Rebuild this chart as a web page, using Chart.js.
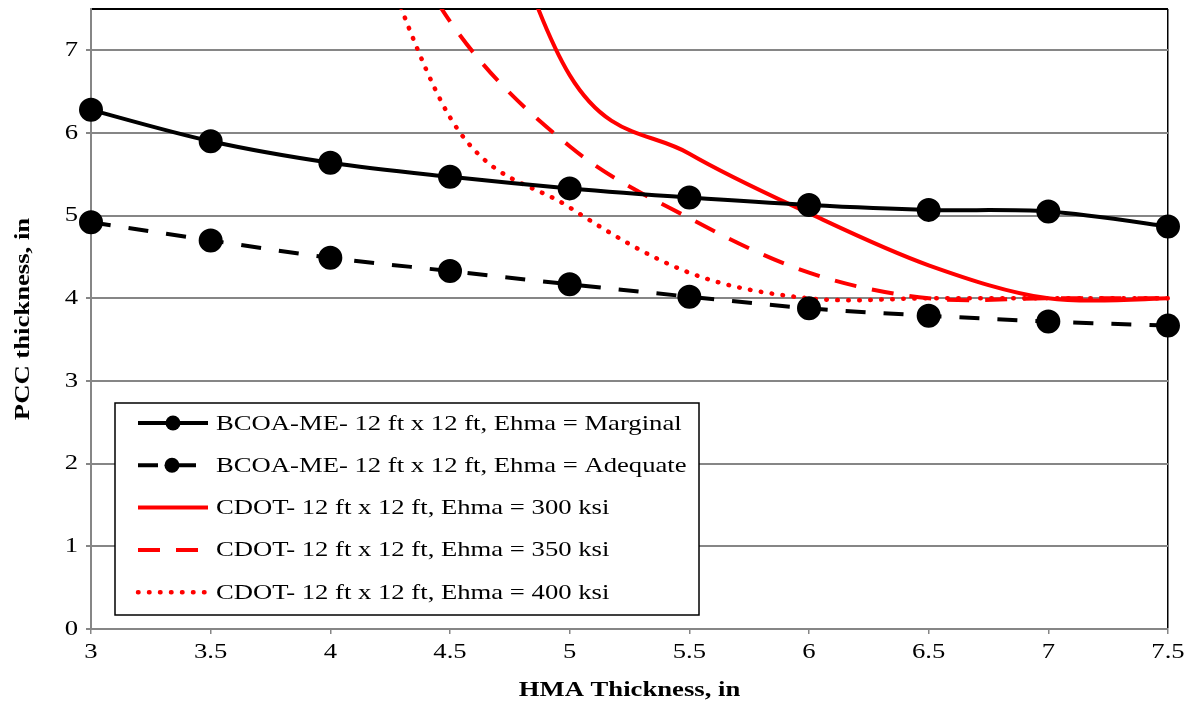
<!DOCTYPE html>
<html>
<head>
<meta charset="utf-8">
<script src="https://cdn.jsdelivr.net/npm/chart.js@4/dist/chart.umd.min.js"></script>
<style>
  html, body { margin: 0; padding: 0; background: #fff; }
  #wrap { width: 1189px; height: 708px; }
</style>
</head>
<body>
<div id="wrap"><canvas id="chart" width="1189" height="708"></canvas></div>
<script>
// 데이터
const hma = [3, 3.5, 4, 4.5, 5, 5.5, 6, 6.5, 7, 7.5];
const marginal = [6.28, 5.9, 5.64, 5.47, 5.33, 5.22, 5.13, 5.07, 5.05, 4.87];
const adequate = [4.92, 4.7, 4.49, 4.33, 4.17, 4.02, 3.88, 3.79, 3.72, 3.67];

const cdotX = [4, 4.5, 5, 5.5, 6, 6.5, 7, 7.5];
const cdot300 = [14, 10.5, 6.7, 5.75, 5.03, 4.4, 4.0, 4.0];
const cdot350 = [10, 7.35, 5.84, 4.97, 4.31, 4.0, 4.0, 4.0];
const cdot400 = [9.9, 6.19, 5.1, 4.31, 4.0, 4.0, 4.0, 4.0];

const labels = [
    'BCOA-ME- 12 ft x 12 ft, Ehma = Marginal',
    'BCOA-ME- 12 ft x 12 ft, Ehma = Adequate',
    'CDOT- 12 ft x 12 ft, Ehma = 300 ksi',
    'CDOT- 12 ft x 12 ft, Ehma = 350 ksi',
    'CDOT- 12 ft x 12 ft, Ehma = 400 ksi'
];

const xTicks = [3, 3.5, 4, 4.5, 5, 5.5, 6, 6.5, 7, 7.5];

const toXY = (xs, ys) => xs.map((x, i) => ({ x: x, y: ys[i] }));

const GRAY = '#868686';
const FONT = 'Liberation Serif';
const STRETCH = 1.27; // 원본 글꼴이 가로로 넓게 렌더링됨
const PLOT_TOP = 9;

// 글자를 가로로 늘려 그리기
const wideText = {
    id: 'wideText',
    beforeDraw(chart) {
        const c = chart.ctx;
        if (c._wide) return;
        const orig = c.fillText.bind(c);
        c.fillText = function (text, x, y) {
            this.save();
            this.translate(x, y);
            this.scale(STRETCH, 1);
            orig(text, 0, 0);
            this.restore();
        };
        c._wide = true;
    }
};

// 플롯 영역 위쪽 위치 맞추기
const fixTop = {
    id: 'fixTop',
    afterLayout(chart) {
        const a = chart.chartArea;
        const y = chart.scales.y;
        a.top = PLOT_TOP;
        a.height = a.bottom - PLOT_TOP;
        y.top = PLOT_TOP;
        y.height = y.bottom - PLOT_TOP;
        y.configure();
    }
};

// 엑셀식 부드러운 선 (Catmull-Rom 제어점)
const excelSmooth = {
    id: 'excelSmooth',
    beforeDatasetDraw(chart, args) {
        const meta = args.meta;
        const line = meta.dataset;
        if (!line || !line.updateControlPoints) return;
        line.updateControlPoints(chart.chartArea, meta.indexAxis);
        const pts = meta.data;
        const n = pts.length;
        for (let i = 0; i < n; i++) {
            const p = pts[i];
            const prev = pts[Math.max(i - 1, 0)];
            const next = pts[Math.min(i + 1, n - 1)];
            const dx = (next.x - prev.x) / 6;
            const dy = (next.y - prev.y) / 6;
            p.cp1x = p.x - dx; p.cp1y = p.y - dy;
            p.cp2x = p.x + dx; p.cp2y = p.y + dy;
        }
        delete line._path;
    }
};

// 범례 (차트 영역 안쪽 박스)
const boxLegend = {
    id: 'boxLegend',
    afterDatasetsDraw(chart) {
        const ctx = chart.ctx;
        const left = 115, top = 403, right = 699, bottom = 615;
        ctx.save();
        ctx.fillStyle = '#fff';
        ctx.fillRect(left, top, right - left, bottom - top);
        ctx.strokeStyle = '#000';
        ctx.lineWidth = 1.5;
        ctx.strokeRect(left, top, right - left, bottom - top);

        chart.data.datasets.forEach((ds, i) => {
            const y = 423 + i * 42.3;
            ctx.save();
            ctx.strokeStyle = ds.borderColor;
            ctx.lineWidth = ds.borderWidth;
            ctx.lineCap = ds.borderCapStyle || 'butt';
            ctx.setLineDash(ds.borderDash || []);
            ctx.beginPath();
            ctx.moveTo(138, y);
            ctx.lineTo(i === 1 || i === 3 ? 200 : 208, y);
            ctx.stroke();
            if (ds.pointRadius > 0) {
                ctx.setLineDash([]);
                ctx.fillStyle = ds.pointBackgroundColor;
                ctx.beginPath();
                ctx.arc(i === 1 ? 172 : 173, y, 7.5, 0, Math.PI * 2);
                ctx.fill();
            }
            ctx.restore();
            ctx.fillStyle = '#000';
            ctx.font = '21px "' + FONT + '"';
            ctx.textBaseline = 'middle';
            ctx.textAlign = 'left';
            ctx.fillText(labels[i], 216, y + 1);
        });
        ctx.restore();
    }
};

const ctx = document.getElementById('chart').getContext('2d');
new Chart(ctx, {
    type: 'line',
    data: {
        datasets: [{
            label: labels[0],
            data: toXY(hma, marginal),
            borderColor: '#000',
            borderWidth: 4,
            pointRadius: 10,
            pointBackgroundColor: '#000',
            pointBorderColor: '#000',
            tension: 0.35,
            clip: 14
        }, {
            label: labels[1],
            data: toXY(hma, adequate),
            borderColor: '#000',
            borderWidth: 4,
            borderDash: [20, 18],
            pointRadius: 10,
            pointBackgroundColor: '#000',
            pointBorderColor: '#000',
            tension: 0.35,
            clip: 14
        }, {
            label: labels[2],
            data: toXY(cdotX, cdot300),
            borderColor: '#ff0000',
            borderWidth: 4,
            pointRadius: 0,
            tension: 0.4,
            capBezierPoints: false,
            clip: { left: 0, top: 0, right: 4, bottom: 0 }
        }, {
            label: labels[3],
            data: toXY(cdotX, cdot350),
            borderColor: '#ff0000',
            borderWidth: 4,
            borderDash: [22, 16],
            pointRadius: 0,
            tension: 0.4,
            capBezierPoints: false,
            clip: { left: 0, top: 0, right: 4, bottom: 0 }
        }, {
            label: labels[4],
            data: toXY(cdotX, cdot400),
            borderColor: '#ff0000',
            borderWidth: 4.5,
            borderDash: [0.5, 10.5],
            borderCapStyle: 'round',
            pointRadius: 0,
            tension: 0.4,
            capBezierPoints: false,
            clip: { left: 0, top: 0, right: 4, bottom: 0 }
        }]
    },
    options: {
        responsive: false,
        animation: false,
        layout: { padding: { top: 9, right: 21, left: 0, bottom: 0 } },
        plugins: {
            legend: { display: false },
            tooltip: { enabled: false }
        },
        scales: {
            x: {
                type: 'linear',
                min: 3,
                max: 7.5,
                afterFit: (s) => { s.height = 79; s.paddingLeft = 0; s.paddingRight = 0; },
                afterBuildTicks: (s) => { s.ticks = xTicks.map(v => ({ value: v })); },
                ticks: {
                    color: '#000',
                    font: { family: FONT, size: 21 },
                    padding: 6,
                    maxRotation: 0,
                    autoSkip: false,
                    callback: (v) => String(v)
                },
                grid: {
                    color: (c) => c.tick && c.tick.value === 7.5 ? '#000' : 'rgba(0,0,0,0)',
                    tickColor: GRAY,
                    tickLength: 5,
                    lineWidth: 1.5
                },
                border: { color: GRAY, width: 2 },
                title: {
                    display: true,
                    text: 'HMA Thickness, in',
                    color: '#000',
                    font: { family: FONT, size: 21, weight: 'bold' },
                    padding: { top: 0, bottom: 5 }
                }
            },
            y: {
                min: 0,
                max: 7.5,
                afterFit: (s) => { s.width = 91; s.paddingTop = 0; s.paddingBottom = 0; },
                ticks: {
                    stepSize: 1,
                    color: '#000',
                    font: { family: FONT, size: 21 },
                    padding: 8,
                    callback: (v) => v === 7.5 ? '' : String(v)
                },
                grid: {
                    color: (c) => c.tick && c.tick.value === 7.5 ? '#000' : GRAY,
                    tickColor: (c) => c.tick && c.tick.value === 7.5 ? 'rgba(0,0,0,0)' : GRAY,
                    tickLength: 5,
                    lineWidth: 2
                },
                border: { color: GRAY, width: 2 },
                title: {
                    display: true,
                    text: 'PCC thickness, in',
                    color: '#000',
                    font: { family: FONT, size: 21, weight: 'bold' },
                    padding: { top: 11, bottom: 0 }
                }
            }
        }
    },
    plugins: [wideText, fixTop, excelSmooth, boxLegend]
});
</script>
</body>
</html>
